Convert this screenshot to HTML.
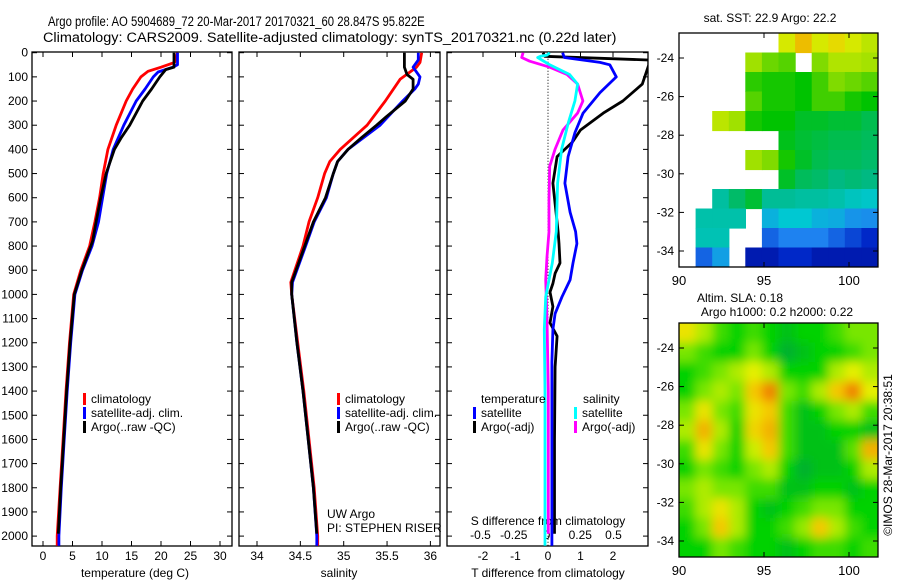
<!DOCTYPE html>
<html><head><meta charset="utf-8">
<style>
html,body{margin:0;padding:0;background:#fff;}
svg{display:block;font-family:"Liberation Sans",sans-serif;}
text{font-size:12px;fill:#000;}
</style></head>
<body>
<svg id="fig" width="900" height="580" viewBox="0 0 900 580" xmlns="http://www.w3.org/2000/svg">
<defs>
<filter id="blur" x="-5%" y="-5%" width="110%" height="110%"><feGaussianBlur stdDeviation="5"/></filter>
<clipPath id="clipSla"><rect x="679" y="323" width="199" height="234"/></clipPath>
<clipPath id="clipSst"><rect x="679" y="33" width="199" height="234"/></clipPath>
<clipPath id="clipP1"><rect x="32" y="52" width="200" height="494"/></clipPath>
<clipPath id="clipP2"><rect x="239" y="52" width="201" height="494"/></clipPath>
<clipPath id="clipP3"><rect x="447" y="52" width="201" height="494"/></clipPath>
</defs>
<text id="title1" x="48" y="26" style="font-size:14px">Argo profile: AO 5904689_72 20-Mar-2017 20170321_60 28.847S 95.822E</text>
<text id="title2" x="43" y="42" style="font-size:14px">Climatology: CARS2009. Satellite-adjusted climatology: synTS_20170321.nc (0.22d later)</text>
<g id="layer"></g>
</svg>
<script>
// ---------- data ----------
const depthTicks=[0,100,200,300,400,500,600,700,800,900,1000,1100,1200,1300,1400,1500,1600,1700,1800,1900,2000];
const tempTicks=[0,5,10,15,20,25,30];
const salTicks=[34,34.5,35,35.5,36];
const tdiffTicks=[-2,-1,0,1,2];
const sdiffTicks=[-0.5,-0.25,0,0.25,0.5];
const sdiffLabels=["-0.5","-0.25","0","0.25","0.5"];

const tClimD=[0,40,60,77,100,150,200,300,400,500,600,700,800,900,1000,1200,1400,1600,1800,2000,2040];
const tClimV=[22.8,22.3,20,17.8,16.6,15.2,14.1,12.4,11.0,10.2,9.6,8.8,7.9,6.4,5.2,4.5,3.9,3.4,2.9,2.4,2.4];
const tSatD=[0,50,60,80,100,150,200,300,400,500,600,700,800,900,1000,1200,1400,1600,1800,2000,2040];
const tSatV=[22.8,22.8,22,19.5,18.7,17.3,15.8,13.7,11.9,10.8,10.1,9.4,8.3,6.7,5.4,4.7,4.1,3.6,3.1,2.7,2.7];
const tArgoD=[0,60,70,100,150,200,300,350,400,500,600,700,780,900,1000,1200,1400,1600,1800,1990];
const tArgoV=[22.2,22.2,20.8,19.8,18.4,16.9,14.7,13.3,12.1,10.7,9.8,9.0,8.4,6.6,5.3,4.6,4.0,3.5,3.0,2.6];

const sClimD=[0,40,60,110,200,300,400,450,500,600,700,800,950,1000,1200,1400,1600,1800,2000,2040];
const sClimV=[35.90,35.88,35.84,35.65,35.48,35.27,34.96,34.84,34.78,34.70,34.60,34.53,34.39,34.40,34.47,34.54,34.60,34.66,34.70,34.70];
const sSatD=[0,30,60,100,130,150,200,300,400,450,500,600,700,800,950,1000,1200,1400,1600,1800,2000,2040];
const sSatV=[35.86,35.86,35.80,35.88,35.86,35.82,35.68,35.42,35.05,34.93,34.88,34.80,34.66,34.56,34.41,34.40,34.46,34.53,34.59,34.65,34.69,34.69];
const sArgoD=[0,60,90,110,150,200,265,300,350,400,450,500,600,700,800,950,1000,1200,1400,1600,1800,1990];
const sArgoV=[35.70,35.70,35.73,35.80,35.80,35.71,35.49,35.38,35.21,35.05,34.93,34.88,34.79,34.65,34.55,34.40,34.40,34.46,34.53,34.59,34.65,34.69];

const tdSatD=[0,20,40,50,100,165,250,330,430,540,660,740,790,870,940,1010,1080,1145,1280,1600,2000,2040];
const tdSatV=[0.45,0.5,1.6,1.9,2.1,1.6,1.08,0.83,0.62,0.52,0.68,0.85,0.89,0.77,0.68,0.43,0.22,0.15,0.12,0.12,0.12,0.12];
const tdArgoD=[0,15,30,50,130,200,250,320,370,430,540,740,790,870,913,955,990,1050,1118,1173,1300,1600,1990];
const tdArgoV=[-0.15,-0.1,3.1,3.1,2.9,2.3,1.7,1.0,0.75,0.28,0.15,0.31,0.34,0.37,0.22,0.15,0.06,0.15,0.06,0.28,0.22,0.2,0.2];
const sdSatD=[0,10,15,20,50,90,130,200,290,400,540,740,870,1010,1145,1400,2040];
const sdSatV=[0.02,0.0,-0.05,-0.07,0.02,0.17,0.23,0.21,0.16,0.11,0.08,0.07,0.04,-0.01,-0.02,-0.015,-0.015];
const sdArgoD=[0,20,35,60,90,130,200,250,320,400,470,610,740,844,940,1100,1400,1990];
const sdArgoV=[-0.18,-0.19,-0.13,0.02,0.15,0.23,0.27,0.23,0.12,0.06,0.02,0.015,0.015,0.0,-0.01,0.0,0.01,0.01];

// map data: 12 cols (lon 90..101.7) x 12 rows (lat -22.7..-34.8), -1 = missing
const sstGrid=[
[-1,-1,-1,-1,-1,-1,.85,.95,.85,.9,.85,.8],
[-1,-1,-1,-1,.75,.7,.68,-1,.72,.78,.78,.76],
[-1,-1,-1,-1,.64,.62,.62,.6,.66,.72,.7,.68],
[-1,-1,-1,-1,.68,.62,.62,.6,.66,.66,.62,.6],
[-1,-1,.8,.75,.62,.6,.6,.57,.57,.56,.56,.54],
[-1,-1,-1,-1,-1,-1,.58,.56,.55,.54,.54,.53],
[-1,-1,-1,-1,.75,.72,.62,.57,.54,.53,.53,.52],
[-1,-1,-1,-1,-1,-1,.57,.53,.52,.5,.51,.5],
[-1,-1,.47,.52,.56,.48,.48,.47,.47,.46,.44,.43],
[-1,.46,.46,.46,-1,.38,.42,.42,.38,.37,.33,.32],
[-1,.45,.45,-1,-1,.25,.3,.3,.3,.25,.2,.15],
[-1,.25,.35,-1,.1,.1,.15,.15,.1,.1,.1,.1]];
const slaGrid=[
[.75,.6,.4,.3,.4,.3,.2,.3,.3,.4,.5,.5],
[.5,.4,.3,.3,.5,.3,.1,.2,.3,.3,.4,.5],
[.3,.4,.5,.6,.7,.6,.3,.3,.3,.6,.7,.6],
[.3,.5,.6,.5,.85,1,.5,.4,.6,.85,1,.7],
[.5,.75,.5,.4,.75,.85,.4,.2,.3,.5,.6,.4],
[.6,.9,.6,.3,.8,.9,.4,.2,.2,.3,.3,.2],
[.4,.75,.5,.3,.65,.85,.4,.2,.2,.2,.45,.9],
[.3,.5,.4,.3,.5,.6,.3,.1,.2,.2,.3,.6],
[.5,.6,.5,.5,.4,.4,.2,.2,.3,.3,.2,.3],
[.4,.6,.75,.6,.3,.2,.3,.4,.5,.5,.3,.3],
[.3,.5,.85,.6,.3,.3,.4,.55,.85,.6,.4,.3],
[.3,.3,.5,.4,.3,.3,.2,.3,.4,.4,.3,.4]];
const lonTicks=[90,95,100];
const latTicks=[-24,-26,-28,-30,-32,-34];

// ---------- helpers ----------
const NS="http://www.w3.org/2000/svg";
const layer=document.getElementById('layer');
function mk(tag,attrs,parent){const e=document.createElementNS(NS,tag);for(const k in attrs)e.setAttribute(k,attrs[k]);(parent||layer).appendChild(e);return e;}
function txt(x,y,s,anchor,parent,size){const e=mk('text',{x:x,y:y,'text-anchor':anchor||'start'},parent);if(size)e.style.fontSize=size+'px';e.textContent=s;return e;}
const yD=d=>52.7+d*0.2417;
const xT=t=>43+t*5.9;
const xS=s=>257+(s-34)*86.7;
const xTd=t=>548+t*32.5;
const xSd=s=>547+s*133;
const xLon=l=>679+(l-90)*17;
const yLat=l=>58+(-24-l)*19.3;

// fit titles by horizontal scaling (keeps glyph height)
[['title1',48,377],['title2',43,574]].forEach(a=>{
  const t=document.getElementById(a[0]);
  const w=t.getComputedTextLength();
  if(w>0){const s=a[2]/w;t.setAttribute('x',0);t.setAttribute('transform','translate('+a[1]+',0) scale('+s.toFixed(4)+',1)');}
});

const frames=[[32,232],[239,440],[447,648]];
frames.forEach((f,i)=>{
  const r=mk('rect',{x:f[0],y:52,width:f[1]-f[0],height:494,fill:'none',stroke:'#000','stroke-width':1.3});
  
  
  depthTicks.forEach(d=>{
    mk('line',{x1:f[0],x2:f[0]+5,y1:yD(d),y2:yD(d),stroke:'#000'});
    mk('line',{x1:f[1],x2:f[1]-5,y1:yD(d),y2:yD(d),stroke:'#000'});
  });
});
depthTicks.forEach(d=>{const e=txt(28,yD(d)+4,String(d),'end');
  
  });

function xAxis(ticks,labels,fx,ylab,f){ticks.forEach((t,i)=>{
  const x=fx(t);
  mk('line',{x1:x,x2:x,y1:52,y2:57,stroke:'#000'});
  if(f!==false) mk('line',{x1:x,x2:x,y1:546,y2:541,stroke:'#000'});
  const e=txt(x,ylab,labels[i],'middle');
  
  
});}
xAxis(tempTicks,tempTicks.map(String),xT,560);
xAxis(salTicks,salTicks.map(String),xS,560);
xAxis(tdiffTicks,tdiffTicks.map(String),xTd,560,false);
sdiffTicks.forEach((t,i)=>{const e=txt(xSd(t),539,sdiffLabels[i],'middle');
  
  });
[[135,'temperature (deg C)','x-axis-title-temperature'],[339,'salinity','x-axis-title-salinity'],[548,'T difference from climatology','x-axis-title-t-diff']].forEach(a=>{
  const e=txt(a[0],577,a[1],'middle');
  
  });
const sdt=txt(548,525,'S difference from climatology','middle');


const zl=mk('line',{x1:xTd(0),x2:xTd(0),y1:yD(0),y2:546,stroke:'#000','stroke-dasharray':'1,2'});



function series(D,V,fx,color,clip,name){
  const pts=D.map((d,i)=>fx(V[i]).toFixed(1)+','+yD(d).toFixed(1)).join(' ');
  const p=mk('polyline',{points:pts,fill:'none',stroke:color,'stroke-width':2.8,'clip-path':'url(#'+clip+')','stroke-linejoin':'round'});
  
  
}
series(tClimD,tClimV,xT,'#ff0000','clipP1','temp-climatology-line');
series(tSatD,tSatV,xT,'#0000ff','clipP1','temp-satellite-line');
series(tArgoD,tArgoV,xT,'#000000','clipP1','temp-argo-line');
series(sClimD,sClimV,xS,'#ff0000','clipP2','sal-climatology-line');
series(sSatD,sSatV,xS,'#0000ff','clipP2','sal-satellite-line');
series(sArgoD,sArgoV,xS,'#000000','clipP2','sal-argo-line');
series(tdArgoD,tdArgoV,xTd,'#000000','clipP3','tdiff-argo-line');
series(tdSatD,tdSatV,xTd,'#0000ff','clipP3','tdiff-satellite-line');
series(sdArgoD,sdArgoV,xSd,'#ff00ff','clipP3','sdiff-argo-line');
series(sdSatD,sdSatV,xSd,'#00ffff','clipP3','sdiff-satellite-line');

function legend(x,y,color,label){
  const g=mk('g',{});
  
  
  mk('rect',{x:x,y:y-10,width:3,height:12,fill:color},g);
  txt(x+8,y,label,'start',g);
}
legend(83,403,'#ff0000','climatology');legend(83,417,'#0000ff','satellite-adj. clim.');legend(83,431,'#000000','Argo(..raw -QC)');
legend(337,403,'#ff0000','climatology');legend(337,417,'#0000ff','satellite-adj. clim.');legend(337,431,'#000000','Argo(..raw -QC)');
const lt=txt(481,403,'temperature');
const ls=txt(583,403,'salinity');
legend(473,417,'#0000ff','satellite');legend(473,431,'#000000','Argo(-adj)');
legend(574,417,'#00ffff','satellite');legend(574,431,'#ff00ff','Argo(-adj)');
const uw=txt(327,518,'UW Argo');
const pi=txt(327,532,'PI: STEPHEN RISER');

// ---------- maps ----------
function interp(stops,v){for(let i=1;i<stops.length;i++){if(v<=stops[i][0]){const a=stops[i-1],b=stops[i];const t=(v-a[0])/(b[0]-a[0]);
  const c=[0,1,2].map(k=>Math.round(a[1][k]+(b[1][k]-a[1][k])*t));return 'rgb('+c.join(',')+')';}}const l=stops[stops.length-1][1];return 'rgb('+l.join(',')+')';}
const sstStops=[[0,[0,0,128]],[0.15,[0,40,200]],[0.3,[30,130,240]],[0.42,[0,200,210]],[0.5,[0,185,130]],[0.6,[0,195,0]],[0.75,[160,225,0]],[0.87,[225,235,0]],[1,[245,160,0]]];
const slaStops=[[0,[0,160,70]],[0.3,[0,210,0]],[0.5,[120,230,0]],[0.7,[230,240,0]],[0.85,[245,200,0]],[1,[240,130,0]]];

function drawMap(grid,stops,y0,clip,name,blur){
  const g=mk('g',{'clip-path':'url(#'+clip+')'});
  
  
  const inner=mk('g',blur?{filter:'url(#blur)'}:{},g);
  const cw=199/12,ch=234/12;
  grid.forEach((row,r)=>row.forEach((v,c)=>{
    if(v<0)return;
    const pad=blur?cw:0;
    const x=679+c*cw-(c===0?pad:0), y=y0+r*ch-(r===0?pad:0);
    const w=cw+0.6+(c===0||c===11?pad:0), h=ch+0.6+(r===0||r===11?pad:0);
    const rc=mk('rect',{x:x.toFixed(1),y:y.toFixed(1),width:w.toFixed(1),height:h.toFixed(1),fill:interp(stops,v)},inner);
    
    
  }));
  const fr=mk('rect',{x:679,y:y0,width:199,height:234,fill:'none',stroke:'#000','stroke-width':1.3});
  
  
  lonTicks.forEach(l=>{const x=xLon(l);
    mk('line',{x1:x,x2:x,y1:y0,y2:y0+5,stroke:'#000'});mk('line',{x1:x,x2:x,y1:y0+234,y2:y0+229,stroke:'#000'});
    const e=txt(x,y0+252,String(l),'middle',null,13);
    
    });
  latTicks.forEach(l=>{const y=yLat(l)+(y0-33);
    mk('line',{x1:679,x2:684,y1:y,y2:y,stroke:'#000'});mk('line',{x1:878,x2:873,y1:y,y2:y,stroke:'#000'});
    const e=txt(674,y+4,String(l),'end');
    
    });
}
drawMap(sstGrid,sstStops,33,'clipSst','sst-map',false);
drawMap(slaGrid,slaStops,323,'clipSla','sla-map',true);
const t1=txt(770,22,'sat. SST: 22.9 Argo: 22.2','middle');
const t2=txt(740,302,'Altim. SLA: 0.18','middle');
const t3=txt(777,316,'Argo h1000: 0.2 h2000: 0.22','middle');
const cr=mk('text',{x:0,y:0,'text-anchor':'middle',transform:'translate(892,455) rotate(-90)'});
cr.textContent='©IMOS 28-Mar-2017 20:38:51';


</script>
</body></html>
